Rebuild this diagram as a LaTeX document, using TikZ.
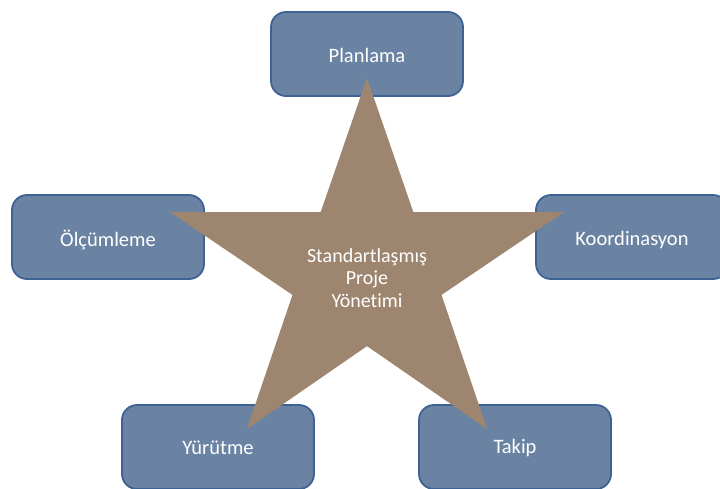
\documentclass[tikz,border=0pt]{standalone}
\usepackage{fontspec}
\setmainfont{Carlito}[RawFeature={-liga}]
\definecolor{boxfill}{RGB}{107,131,163}
\definecolor{boxline}{RGB}{62,98,148}
\definecolor{starfill}{RGB}{157,133,112}
\begin{document}
\begin{tikzpicture}[x=1pt,y=-1pt,
  box/.style={draw=boxline, line width=1.8pt, fill=boxfill, rounded corners=15pt,
    minimum width=192pt, minimum height=84pt},
  lbl/.style={text=white, font=\fontsize{20.5}{23}\selectfont, inner sep=0pt},
  startext/.style={text=white, font=\fontsize{20}{22.5}\selectfont, align=center}]
\clip (0,0) rectangle (720,488);
\fill[white] (0,0) rectangle (720,488);
\node[box] (plan) at (367,54) {};
\node[box] (olc) at (108,237) {};
\node[box] (koor) at (632,237) {};
\node[box] (yur) at (218,447) {};
\node[box] (takip) at (515,447) {};
\node[lbl] (planT) at ([yshift=-1pt]plan.center) {Planlama};
\node[lbl] (olcT) at ([yshift=-3pt]olc.center) {Ölçümleme};
\node[lbl] (koorT) at ([yshift=-3pt]koor.center) {Koordinasyon};
\node[lbl] (yurT) at ([yshift=-1pt]yur.center) {Yürütme};
\node[lbl] (takipT) at ([yshift=-1pt]takip.center) {Takip};
% star
\fill[starfill]
  (367,78) -- (320.7,212) -- (170,212) -- (292.5,294.9) --
  (246.9,429) -- (367,346.1) -- (487.1,429) -- (441.5,294.9) --
  (564,212) -- (413.3,212) -- cycle;
\node[startext] (center) at (367,278) {Standartlaşmış\\Proje\\Yönetimi};
\end{tikzpicture}
\end{document}
